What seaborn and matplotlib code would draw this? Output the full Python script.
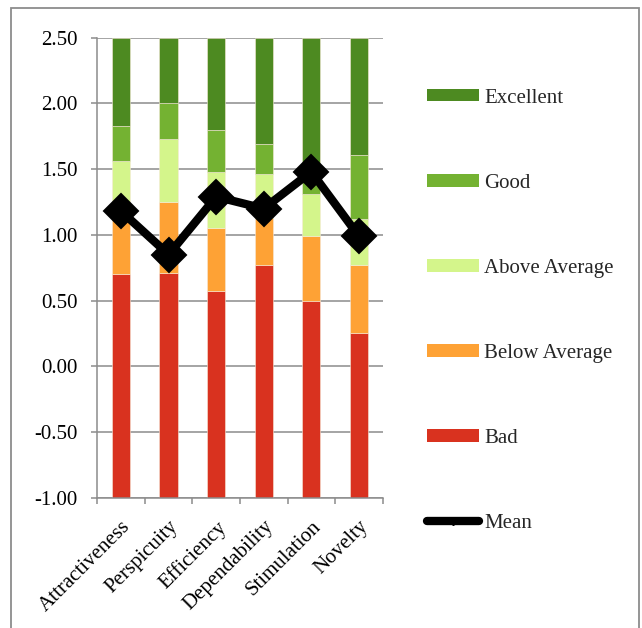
import matplotlib
matplotlib.use("Agg")
import matplotlib.pyplot as plt
from matplotlib.patches import Patch, Rectangle
from matplotlib.lines import Line2D
import numpy as np
import pandas as pd
import seaborn as sns

# UEQ scales and benchmark boundaries (upper edge of each band)
scales = ["Attractiveness", "Perspicuity", "Efficiency", "Dependability", "Stimulation", "Novelty"]
bad_top = [0.70, 0.71, 0.57, 0.77, 0.50, 0.25]
below_avg_top = [1.17, 1.25, 1.05, 1.13, 0.99, 0.77]
above_avg_top = [1.56, 1.73, 1.48, 1.46, 1.31, 1.12]
good_top = [1.83, 2.00, 1.80, 1.69, 1.55, 1.61]
excellent_top = [2.50, 2.50, 2.50, 2.50, 2.50, 2.50]
means = [1.18, 0.85, 1.29, 1.20, 1.48, 0.99]

band_names = ["Excellent", "Good", "Above Average", "Below Average", "Bad"]
band_colors = {
    "Excellent": "#4d8a21",
    "Good": "#74b232",
    "Above Average": "#d4f58b",
    "Below Average": "#fea235",
    "Bad": "#d9321f",
}
axis_min, axis_max = -1.0, 2.5
FS = 15

sns.set_theme(style="white")
plt.rcParams["font.family"] = ["Liberation Serif", "DejaVu Serif"]

fig = plt.figure(figsize=(6.42, 6.28), dpi=100)
ax = fig.add_axes([0.1516, 0.2075, 0.596 - 0.1516, 0.94 - 0.2075])

# stacked benchmark bands, bottom to top
bounds = [axis_min * np.ones(len(scales)), np.array(bad_top), np.array(below_avg_top),
          np.array(above_avg_top), np.array(good_top), np.array(excellent_top)]
order_bottom_up = ["Bad", "Below Average", "Above Average", "Good", "Excellent"]
for i, name in enumerate(order_bottom_up):
    lower, upper = bounds[i], bounds[i + 1]
    df = pd.DataFrame({"scale": scales, "height": upper - lower})
    sns.barplot(data=df, x="scale", y="height", order=scales, color=band_colors[name],
                saturation=1, width=0.385, bottom=lower, ax=ax,
                edgecolor="#f6e9d8", linewidth=0.4)

# mean line
mdf = pd.DataFrame({"scale": scales, "mean": means})
sns.pointplot(data=mdf, x="scale", y="mean", order=scales, color="black",
              markers="D", markersize=14, linewidth=6, ax=ax, zorder=5)

ax.set_xlim(-0.5, len(scales) - 0.5)
ax.set_ylim(axis_min, axis_max)
ax.set_yticks(np.arange(-1.0, 2.51, 0.5))
ax.set_yticklabels([f"{v:.2f}" for v in np.arange(-1.0, 2.51, 0.5)])
ax.set_xlabel("")
ax.set_ylabel("")
ax.set_axisbelow(True)
ax.yaxis.grid(True, color="#8c8c8c", linewidth=1.1)
ax.xaxis.grid(False)

for s in ["top", "right"]:
    ax.spines[s].set_visible(False)
for s in ["left", "bottom"]:
    ax.spines[s].set_color("#8c8c8c")
    ax.spines[s].set_linewidth(1.1)

ax.tick_params(axis="y", which="major", left=True, length=4.5, width=1.1,
               color="#8c8c8c", labelsize=FS, labelcolor="black", pad=9.5)
ax.set_xticks(np.arange(-0.5, len(scales), 1.0), minor=True)
ax.tick_params(axis="x", which="minor", bottom=True, length=4.5, width=1.1,
               color="#8c8c8c")
ax.tick_params(axis="x", which="major", bottom=False, length=0, labelsize=FS,
               labelcolor="black", pad=14)
plt.setp(ax.get_xticklabels(), rotation=45, ha="right", va="top",
         rotation_mode="anchor")

# legend
handles = [Patch(facecolor=band_colors[n], edgecolor="none") for n in band_names]
handles.append(Line2D([0], [0], color="black", linewidth=6, marker="D",
                      markersize=4, solid_capstyle="round"))
labels = band_names + ["Mean"]
leg = fig.legend(handles, labels, loc="upper left", bbox_to_anchor=(0.6517, 0.872),
                 frameon=False, fontsize=FS, handlelength=2.5, handleheight=0.53,
                 handletextpad=0.25, labelspacing=3.17, borderaxespad=0)

# outer frame
fig.patches.append(Rectangle((11 / 642, -0.1), (639 - 11) / 642, 1.1 - 8 / 628,
                             transform=fig.transFigure, fill=False,
                             edgecolor="#8c8c8c", linewidth=1.3))

fig.savefig("out.png", dpi=100, facecolor="white")
